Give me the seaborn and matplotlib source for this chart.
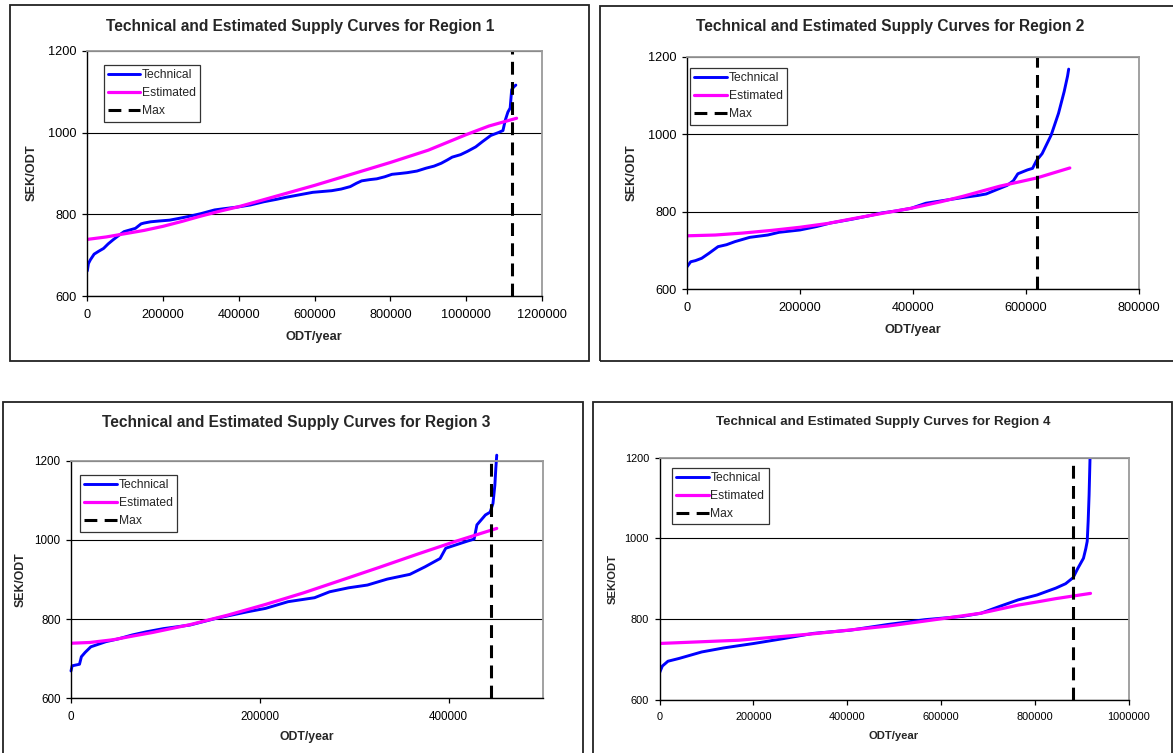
import numpy as np
import pandas as pd
import matplotlib
matplotlib.use("Agg")
import matplotlib.pyplot as plt
from matplotlib.patches import Rectangle
from matplotlib.lines import Line2D
import seaborn as sns

# ---------------- data ----------------
regions = ["Region 1", "Region 2", "Region 3", "Region 4"]

r1_tech_x = [0, 3000, 8000, 18000, 30000, 43000, 55000, 68000, 85000, 97000, 112000, 127000,
             142000, 150000, 167000, 190000, 217000, 240000, 267000, 300000, 336000, 360000,
             396000, 430000, 466000, 500000, 525000, 560000, 595000, 620000, 645000, 670000,
             694000, 710000, 724000, 745000, 764000, 785000, 804000, 825000, 844000, 870000,
             894000, 915000, 934000, 950000, 963000, 985000, 1003000, 1025000, 1043000,
             1065000, 1085000, 1097000, 1103000, 1110000, 1116000, 1120000, 1126000, 1131000]
r1_tech_y = [662, 680, 689, 703, 710, 717, 728, 738, 750, 758, 762, 766,
             777, 779, 782, 784, 786, 790, 795, 802, 811, 814,
             818, 823, 831, 837, 842, 848, 854, 856, 858, 862,
             868, 876, 882, 885, 887, 892, 898, 900, 902, 906,
             913, 918, 925, 933, 940, 946, 954, 965, 978,
             993, 1000, 1005, 1030, 1050, 1060, 1105, 1112, 1116]
r1_est_x = [0, 50000, 100000, 150000, 200000, 250000, 300000, 350000, 400000, 500000, 600000,
            700000, 800000, 900000, 1000000, 1060000, 1133000]
r1_est_y = [739, 745, 753, 761, 771, 783, 796, 808, 819, 845, 871,
            899, 927, 957, 995, 1016, 1035]
r1_max = 1120000

r2_tech_x = [0, 6500, 15000, 26000, 39000, 55000, 70000, 85000, 111000, 143000, 163000, 200000,
             230000, 254000, 293000, 320000, 345000, 370000, 397000, 423000, 463000, 490000,
             515000, 530000, 550000, 567000, 578000, 586000, 603000, 612000, 619000, 629000,
             645000, 658000, 668000, 674000, 676000]
r2_tech_y = [658, 671, 674, 680, 693, 710, 715, 723, 734, 740, 747, 753,
             762, 771, 781, 789, 797, 802, 809, 822, 831, 837,
             842, 846, 858, 868, 880, 898, 908, 912, 932, 950,
             998, 1054, 1110, 1150, 1168]
r2_est_x = [0, 50000, 98000, 150000, 200000, 250000, 293000, 350000, 397000, 450000, 489000,
            554000, 619000, 678000]
r2_est_y = [738, 740, 745, 752, 760, 770, 782, 797, 809, 826, 840,
            866, 887, 913]
r2_max = 620000

r3_tech_x = [0, 1200, 9000, 11000, 15000, 21000, 37000, 50000, 65000, 80000, 98000, 126000,
             154000, 170000, 186000, 206000, 230000, 258000, 274000, 294000, 314000, 335000,
             359000, 375000, 391000, 397000, 411000, 420000, 427000, 430000, 439000, 444000,
             447000, 449000, 450000, 451000]
r3_tech_y = [669, 682, 686, 705, 716, 730, 743, 750, 760, 768, 776, 785,
             802, 810, 818, 827, 844, 854, 869, 879, 886, 901,
             913, 932, 953, 979, 990, 997, 1002, 1038, 1063, 1070,
             1092, 1138, 1180, 1214]
r3_est_x = [0, 20000, 45000, 65000, 86000, 126000, 166000, 206000, 246000, 286000, 327000,
            367000, 407000, 451000]
r3_est_y = [739, 741, 748, 757, 766, 786, 810, 837, 866, 898, 931,
            964, 996, 1029]
r3_max = 445000

r4_tech_x = [0, 6000, 18000, 42000, 66000, 90000, 137000, 201000, 264000, 328000, 407000,
             486000, 566000, 645000, 685000, 725000, 764000, 804000, 844000, 865000, 881000,
             891000, 903000, 908000, 911000, 913000, 915000, 917000]
r4_tech_y = [667, 684, 696, 703, 711, 719, 729, 740, 752, 765, 773,
             787, 799, 807, 815, 832, 848, 860, 877, 888, 903,
             926, 951, 975, 993, 1042, 1108, 1200]
r4_est_x = [0, 169000, 328000, 486000, 606000, 685000, 764000, 800000, 844000, 918000]
r4_est_y = [740, 748, 764, 783, 802, 815, 835, 842, 851, 864]
r4_max = 880000

x_limits = [1200000, 800000, 500000, 1000000]
x_tick_step = 200000
y_ticks = [600, 800, 1000, 1200]
series_names = ["Technical", "Estimated", "Max"]

# ---------------- layout (pixels) ----------------
W, H = 1173, 753
# axes box (L, T, R, B), title centre, ylabel centre, xlabel centre, legend top-left
layout = [
    dict(ax=(87.3, 50.7, 542.0, 296.3), title=(300, 27), ylab=(32, 173), xlab=(314, 337),
         leg=(103.5, 65), box=(9.5, 5.3, 589.3, 360.7), fs_title=11.2, fs_tick=9.2, fs_lab=9.2),
    dict(ax=(687.0, 56.7, 1138.7, 289.3), title=(890, 27), ylab=(632, 173), xlab=(913, 330),
         leg=(690, 68), box=(599.7, 5.5, 1176, 360.7), fs_title=11.2, fs_tick=9.2, fs_lab=9.2),
    dict(ax=(71.0, 460.7, 543.0, 698.3), title=(296, 422.7), ylab=(21, 580), xlab=(307, 737),
         leg=(80, 475), box=(3.2, 401.7, 582.7, 760), fs_title=11.2, fs_tick=8.4, fs_lab=8.8),
    dict(ax=(659.5, 457.7, 1129.0, 700.0), title=(883.6, 421.7), ylab=(613, 579), xlab=(893.7, 735.7),
         leg=(671.8, 467.7), box=(592.7, 402, 1172.3, 760), fs_title=9.6, fs_tick=7.9, fs_lab=8.1),
]

tech = [(r1_tech_x, r1_tech_y), (r2_tech_x, r2_tech_y), (r3_tech_x, r3_tech_y), (r4_tech_x, r4_tech_y)]
est = [(r1_est_x, r1_est_y), (r2_est_x, r2_est_y), (r3_est_x, r3_est_y), (r4_est_x, r4_est_y)]
maxes = [r1_max, r2_max, r3_max, r4_max]

sns.set_style("white")
plt.rcParams["font.family"] = ["Liberation Sans", "DejaVu Sans"]

fig = plt.figure(figsize=(W / 100, H / 100), dpi=100)
fig.patch.set_facecolor("white")

BLUE = "#0000FF"
MAGENTA = "#FF00FF"
TECH_LW, EST_LW, MAX_LW = 2.1, 2.3, 2.2
MAX_DASH = (4.2, 2.4)

for i, reg in enumerate(regions):
    lay = layout[i]
    L, T, R, B = lay["ax"]
    ax = fig.add_axes([L / W, 1 - B / H, (R - L) / W, (B - T) / H])
    aw, ah = R - L, B - T

    # outer chart frame
    bl, bt, br, bb = lay["box"]
    fig.patches.append(Rectangle((bl / W, 1 - bb / H), (br - bl) / W, (bb - bt) / H,
                                 transform=fig.transFigure, fill=False,
                                 edgecolor="#222222", lw=1.3, zorder=0))

    tx, ty = tech[i]
    ex, ey = est[i]
    sns.lineplot(x=tx, y=ty, ax=ax, color=BLUE, lw=TECH_LW, estimator=None, sort=False,
                 label=series_names[0])
    if i == 2:
        ax.lines[-1].set_clip_on(False)
    sns.lineplot(x=ex, y=ey, ax=ax, color=MAGENTA, lw=EST_LW, estimator=None, sort=False,
                 label=series_names[1])
    ax.axvline(maxes[i], color="black", lw=MAX_LW, dashes=MAX_DASH, label=series_names[2])

    ax.set_xlim(0, x_limits[i])
    ax.set_ylim(600, 1200)
    ax.set_xticks(np.arange(0, x_limits[i] + 1, x_tick_step))
    ax.set_yticks(y_ticks)
    ax.ticklabel_format(style="plain", useOffset=False)
    ax.tick_params(axis="both", direction="out", length=3.5, width=0.9, colors="black",
                   labelsize=lay["fs_tick"], pad=4)
    ax.tick_params(axis="x", pad=5.5)
    ax.tick_params(bottom=True, left=True)

    ax.set_axisbelow(True)
    ax.yaxis.grid(True, color="black", lw=0.8)
    ax.xaxis.grid(False)
    for side in ["left", "bottom"]:
        ax.spines[side].set_color("black")
        ax.spines[side].set_linewidth(1.0)
    for side in ["top", "right"]:
        ax.spines[side].set_color("#9a9a9a")
        ax.spines[side].set_linewidth(1.3)

    ax.set_title(f"Technical and Estimated Supply Curves for {reg}", fontsize=lay["fs_title"],
                 fontweight="bold", x=(lay["title"][0] - L) / aw, y=(B - lay["title"][1]) / ah,
                 va="center", pad=0)
    ax.set_xlabel("ODT/year", fontsize=lay["fs_lab"], fontweight="bold")
    ax.set_ylabel("SEK/ODT", fontsize=lay["fs_lab"], fontweight="bold")
    ax.xaxis.set_label_coords((lay["xlab"][0] - L) / aw, (B - lay["xlab"][1]) / ah)
    ax.yaxis.set_label_coords((lay["ylab"][0] - L) / aw, (B - lay["ylab"][1]) / ah)
    ax.xaxis.label.set_va("center")
    ax.yaxis.label.set_va("center")

    handles = [Line2D([], [], color=BLUE, lw=TECH_LW),
               Line2D([], [], color=MAGENTA, lw=EST_LW),
               Line2D([], [], color="black", lw=MAX_LW, dashes=MAX_DASH)]
    leg = ax.legend(handles, series_names, loc="upper left",
                    bbox_to_anchor=((lay["leg"][0] - L) / aw, (B - lay["leg"][1]) / ah),
                    borderaxespad=0, frameon=True, fancybox=False, fontsize=8.7,
                    handlelength=2.7, handletextpad=0.15, borderpad=0.35, labelspacing=0.5)
    leg.get_frame().set_edgecolor("black")
    leg.get_frame().set_linewidth(0.9)

fig.savefig("out.png", dpi=100, facecolor="white")
